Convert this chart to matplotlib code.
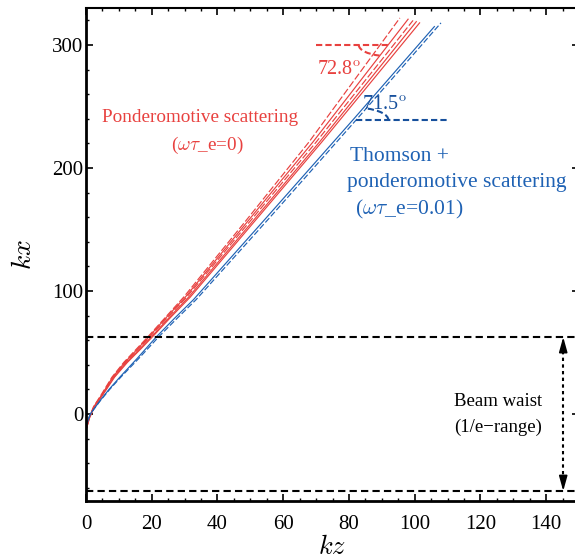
import matplotlib
matplotlib.use('Agg')
import matplotlib.pyplot as plt
from matplotlib.patches import Arc
from matplotlib.ticker import MultipleLocator

plt.rcParams['font.family'] = ['Liberation Serif', 'DejaVu Serif']
plt.rcParams['mathtext.fontset'] = 'cm'

RED = '#e8413f'
BLUE = '#1f62b4'
DBLUE = '#17509c'

# red curves (ponderomotive only): kx samples and kz per curve
red_kx = [-13, -3, 6, 16, 30, 42, 53, 63, 79, 95, 157, 221]
red_curves = [
    ([0, 0.9, 2.3, 4.7, 7.9, 11.5, 15.4, 18.9, 24.3, 29.7, 48.6, 67.8, 95.5], 322, '--'),
    ([0, 1.0, 2.4, 4.9, 8.1, 11.8, 15.7, 19.2, 24.6, 30.2, 49.3, 69.0, 98.0], 321, '-'),
    ([0, 1.0, 2.5, 5.0, 8.3, 12.0, 16.0, 19.5, 25.0, 30.6, 50.0, 70.0, 99.5], 320, '--'),
    ([0, 1.0, 2.5, 5.1, 8.5, 12.3, 16.4, 20.0, 25.5, 31.2, 50.8, 71.0, 100.5], 319, '-'),
    ([0, 1.1, 2.6, 5.2, 8.7, 12.6, 16.7, 20.3, 25.9, 31.7, 51.4, 71.7, 101.5], 318, '-'),
]

# blue curves (Thomson + ponderomotive)
blue_kx = [-10, 0, 11, 20, 30, 45, 63, 78, 93, 160, 240]
blue_curves = [
    ([0, 1.3, 4.3, 7.0, 10.3, 15.5, 21.5, 27.0, 32.7, 55.0, 81.5, 106.0], 315, '-'),
    ([0, 1.3, 4.4, 7.2, 10.6, 16.0, 22.2, 27.8, 33.5, 56.0, 82.5, 108.0], 318, '--'),
]

waist = 62.6
red_angle = 72.8
blue_angle = 71.5
arrow_x = 145.2

fig = plt.figure(figsize=(5.75, 5.59), dpi=100)
ax = fig.add_axes([86 / 575, 58 / 559, 493 / 575, 493 / 559])

for kz, kx_end, ls in red_curves:
    ax.plot(kz, red_kx + [kx_end], color=RED, lw=0.85, ls=ls, dashes=(6, 2) if ls == '--' else (None, None))
for kz, kx_end, ls in blue_curves:
    ax.plot(kz, blue_kx + [kx_end], color=BLUE, lw=0.85, ls=ls, dashes=(5, 2) if ls == '--' else (None, None))

# beam waist lines
ax.axhline(waist, color='k', lw=1.5, dashes=(3.5, 2))
ax.axhline(-waist, color='k', lw=1.5, dashes=(3.5, 2))
ax.plot([arrow_x, arrow_x], [-waist + 8, waist - 8], color='k', lw=1.5, dashes=(1.6, 1.6))
for y0, y1 in [(waist - 12, waist), (-waist + 12, -waist)]:
    ax.annotate('', xy=(arrow_x, y1), xytext=(arrow_x, y0),
                arrowprops=dict(arrowstyle='-|>,head_length=0.9,head_width=0.25', color='k',
                                lw=1.2, shrinkA=0, shrinkB=0))
ax.text(125.4, 10.5, 'Beam waist', ha='center', va='center', fontsize=13.5)
ax.text(125.4, -10.5, '(1/e\u2212range)', ha='center', va='center', fontsize=13.5)

# angle annotations
ax.plot([70, 92], [300, 300], color=RED, lw=1.5, dashes=(3, 1.5))
ax.add_patch(Arc((92, 300), 18, 18, theta1=180, theta2=180 + red_angle,
                 color=RED, lw=1.5, ls=(0, (3, 1.5))))
ax.text(70.3, 279, '%.1f$^{\\mathrm{o}}$' % red_angle, color=RED, fontsize=14.5, va='center')

ax.plot([82, 110], [239, 239], color=DBLUE, lw=1.5, dashes=(3, 1.5))
ax.add_patch(Arc((82, 239), 20, 20, theta1=0, theta2=blue_angle,
                 color=DBLUE, lw=1.5, ls=(0, (3, 1.5))))
ax.text(84, 251, '%.1f$^{\\mathrm{o}}$' % blue_angle, color=DBLUE, fontsize=14.5, va='center')

ax.text(34.7, 241, 'Ponderomotive scattering', color=RED, fontsize=13.8, ha='center', va='center')
ax.text(37, 218, '($\\omega\\tau$_e=0)', color=RED, fontsize=13.8, ha='center', va='center')
ax.text(80.3, 209, 'Thomson +', color=BLUE, fontsize=15.5, va='center')
ax.text(79.4, 188, 'ponderomotive scattering', color=BLUE, fontsize=15.5, va='center')
ax.text(81.9, 166, '($\\omega\\tau$_e=0.01)', color=BLUE, fontsize=15.5, va='center')

ax.set_xlim(0, 150)
ax.set_ylim(-70.7, 330.1)
ax.xaxis.set_major_locator(MultipleLocator(20))
ax.xaxis.set_minor_locator(MultipleLocator(5))
ax.yaxis.set_major_locator(MultipleLocator(100))
ax.yaxis.set_minor_locator(MultipleLocator(20))
ax.tick_params(which='both', direction='in', top=True, right=True, labelsize=15)
ax.tick_params(which='major', length=5, width=1.2)
ax.tick_params(which='minor', length=2.5, width=1)
ax.tick_params(axis='y', pad=2)
ax.tick_params(axis='x', pad=10)
for s in ax.spines.values():
    s.set_linewidth(1.5)
ax.spines['left'].set_linewidth(2)
ax.spines['bottom'].set_linewidth(2)

ax.set_xlabel('$kz$', fontsize=19, labelpad=1)
ax.set_ylabel('$kx$', fontsize=20, labelpad=11)

fig.savefig('out.png', dpi=100)
